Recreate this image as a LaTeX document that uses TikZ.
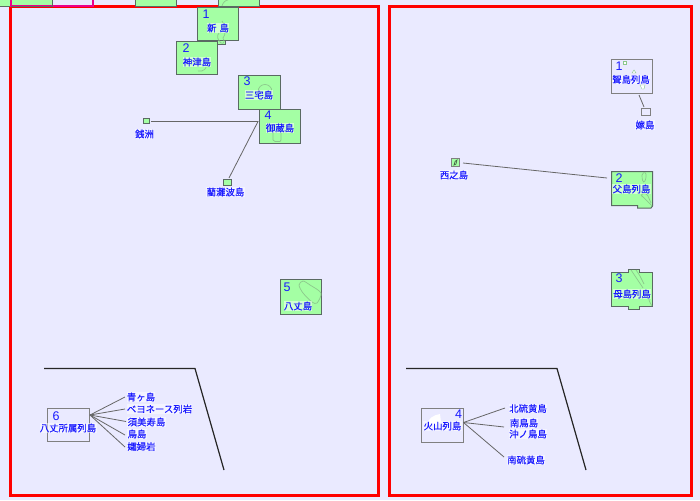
\documentclass[tikz,border=0pt]{standalone}
\usepackage{fontspec}
\newfontfamily\cjk[FakeBold=0.1]{Noto Sans CJK JP}
\setmainfont{Liberation Sans}
\definecolor{bgl}{HTML}{EAEAFF}
\definecolor{isl}{HTML}{A4FFA4}
\definecolor{edge}{HTML}{5A6A62}
\definecolor{lbl}{HTML}{1A1AFF}
\definecolor{coast}{HTML}{8CC88C}
\tikzset{
  frame/.style={draw=red,line width=3pt},
  isbox/.style={draw=edge,fill=isl,line width=1pt},
  plainbox/.style={draw=gray,fill=bgl,line width=1pt},
  conn/.style={draw=black!60,line width=.8pt},
  sep/.style={draw=black!85,line width=1.2pt},
  lab/.style={text=lbl,font=\cjk\fontsize{9.4}{10}\selectfont,inner sep=.3pt,fill=white,fill opacity=.5,text opacity=1,align=center},
  num/.style={text=lbl,font=\fontsize{12.5}{12.5}\selectfont,inner sep=0pt},
  coastline/.style={draw=coast,line width=.7pt}
}
\begin{document}
\begin{tikzpicture}[x=1pt,y=-1pt]
\useasboundingbox (0,0) rectangle (700,500);
\fill[bgl] (0,0) rectangle (700,500);
% frames
\draw[frame] (10.5,7) rectangle (378.5,495.5);
\draw[frame] (389.5,7) rectangle (691.5,495.5);
% top strip
\draw[isbox] (-2,-2) rectangle (10,7);
\draw[isbox] (10.5,-2) rectangle (52,7);
\draw[draw=magenta,line width=2pt] (11,0) -- (11,6) -- (93,6) -- (93,0);
\draw[edge,line width=1pt] (11,7) -- (52,7) -- (52,0);
\draw[isbox] (135,-2) rectangle (176.5,7);
\draw[isbox] (218,-2) rectangle (259.5,7);
\draw[coastline] (222,6) .. controls (223,2) and (226,0) .. (228,0);
% Izu
\draw[isbox] (217.5,38) rectangle (225,45);
\draw[isbox] (197.5,7.5) rectangle (238.5,41);
\draw[coastline] (222,21) .. controls (226,26) and (226,35) .. (223,38) .. controls (225,42) and (224,44) .. (221,43) .. controls (218,40) and (216,36) .. (219,33);
\draw[coastline] (212,45) .. controls (212,42) and (215,40) .. (215,43);
\draw[isbox] (176.5,41.5) rectangle (217.5,75);
\draw[coastline] (198,71) .. controls (204,72) and (207,68) .. (206,65);
\node[num] (n1) at (206,14) {1};
\node[lab] (t1) at (218,28) {新\,\,島};
\node[num] (n2) at (186,48) {2};
\node[lab] (t2) at (197,62) {神津島};
\draw[isbox] (238.5,75.5) rectangle (280,109);
\draw[coastline] (258,92) .. controls (258,82) and (272,82) .. (272,92);
\node[num] (n3) at (247,81) {3};
\node[lab] (t3) at (259,95) {三宅島};
\draw[isbox] (259.5,109.5) rectangle (300.5,143);
\draw[coastline] (273,132) -- (273,140) -- (275,141.5) -- (280,141.5) -- (281,140) -- (281,132);
\node[num] (n4) at (268,115) {4};
\node[lab] (t4) at (280,128) {御蔵島};
\draw[isbox] (143.5,118) rectangle (149,123.5);
\node[lab] (tz) at (144.5,134) {銭洲};
\draw[isbox] (223.5,179) rectangle (231,185);
\node[lab] (tr) at (225.5,192) {藺灘波島};
\coordinate (hub) at (258,121.5);
\coordinate (zs) at (151,121.5);
\coordinate (rs) at (229,178);
\draw[conn] (zs) -- (hub) -- (rs);
\draw[isbox] (280.5,279.5) rectangle (321.5,314);
\draw[coastline] plot[smooth cycle] coordinates {(299,285) (303,281) (310,285) (321,293) (317,303) (312,302) (303,293)};
\node[num] (n5) at (287,287) {5};
\node[lab] (t5) at (298,306) {八丈島};
% Hachijo group
\draw[sep] (44,368.5) -- (195,368.5) -- (224,470);
\draw[plainbox] (47.5,408.5) rectangle (89.5,441);
\node[num] (n6) at (56,416) {6};
\node[lab] (t6) at (68,428) {八丈所属列島};
\coordinate (h6) at (90,415);
\node[lab] (a1) at (141,397) {青ヶ島};
\node[lab] (a2) at (159.5,409) {ベヨネース列岩};
\node[lab] (a3) at (146.5,422) {須美寿島};
\node[lab] (a4) at (137,434) {鳥島};
\node[lab] (a5) at (141.5,446.5) {孀婦岩};
\draw[conn] (h6) -- (125,397);
\draw[conn] (h6) -- (125,409);
\draw[conn] (h6) -- (126,421.5);
\draw[conn] (h6) -- (125,435);
\draw[conn] (h6) -- (125,447);
% Ogasawara
\draw[plainbox] (611,59.5) rectangle (652.5,94);
\fill[white,draw=coast,line width=.4pt] (623.5,61) rectangle (626.5,64.5);
\fill[white,draw=coast,line width=.4pt] (632,73) -- (634,70) -- (636,73) -- cycle;
\fill[white,draw=coast,line width=.4pt] (640,85) -- (645,85) -- (644,89) -- (642,89) -- cycle;
\node[num] (b1) at (619,66.5) {1};
\node[lab] (bt1) at (631,79.5) {聟島列島};
\draw[plainbox] (641,108.5) rectangle (650.5,115.5);
\node[lab] (yo) at (645,125) {嫁島};
\draw[conn] (639,95) -- (644,107);
\draw[isbox,draw=gray] (451.5,158.5) rectangle (459.5,166.5);
\draw[coastline,draw=black!50!coast] (454,165) .. controls (454,162) and (456,160) .. (457,160) -- (456,164) -- cycle;
\node[lab] (ns) at (454,175) {西之島};
\draw[conn] (463,163) -- (607,178);
\draw[isbox] (611.5,171.5) -- (652.5,171.5) -- (652.5,206) -- (651,208) -- (637.5,208) -- (637.5,205.5) -- (611.5,205.5) -- cycle;
\draw[coastline] (642,175) .. controls (644,170) and (647,173) .. (646,177) .. controls (645,184) and (642,184) .. (642,175);
\draw[coastline] (641,195) -- (652,206) (642,197) .. controls (640,193) and (646,192) .. (648,196) -- (651,203);
\node[num] (b2) at (619,178) {2};
\node[lab] (bt2) at (631.5,189) {父島列島};
\draw[isbox] (611.5,272.5) -- (628.5,272.5) -- (628.5,269.5) -- (639.5,269.5) -- (639.5,272.5) -- (652.5,272.5) -- (652.5,306.5) -- (639.5,306.5) -- (639.5,309) -- (628.5,309) -- (628.5,306.5) -- (611.5,306.5) -- cycle;
\draw[coastline] (631,270) -- (643,288) (636,270) -- (640,276) -- (642,280) -- (644,284) (650,294) .. controls (647,298) and (650,303) .. (652,306);
\node[num] (b3) at (619,278.5) {3};
\node[lab] (bt3) at (632,294) {母島列島};
\draw[sep] (406,368.5) -- (557,368.5) -- (586,470);
\draw[plainbox] (421.5,408.5) rectangle (463.5,442.5);
\fill[white] (427,425) .. controls (428,418) and (434,415) .. (440,414) -- (441,422) -- (436,425) -- cycle;
\node[num] (b4) at (458.5,414) {4};
\node[lab] (bt4) at (442.5,426) {火山列島};
\coordinate (h4) at (463.5,422.5);
\node[lab] (c1) at (528,408.5) {北硫黄島};
\node[lab] (c2) at (524,423) {南鳥島};
\node[lab] (c3) at (528,434) {沖ノ鳥島};
\node[lab] (c4) at (526,460) {南硫黄島};
\draw[conn] (h4) -- (505,408);
\draw[conn] (h4) -- (504,427);
\draw[conn] (h4) -- (504,457);
\end{tikzpicture}
\end{document}
